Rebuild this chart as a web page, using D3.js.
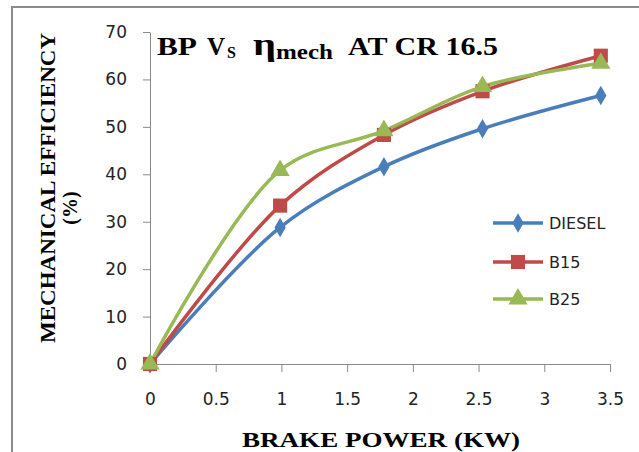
<!DOCTYPE html>
<html lang="en">
<head>
  <meta charset="UTF-8" />
  <title>BP vs mechanical efficiency</title>
  <script src="https://d3js.org/d3.v7.min.js"></script>
  <style>
    body { margin: 0; background: #fff; }
    svg { display: block; }
    .tick text { font-family: "DejaVu Sans", Verdana, sans-serif; font-size: 17px; fill: #222; }
    .axis path, .axis line { stroke: #8a8a8a; }
  </style>
</head>
<body>
  <svg id="chart"></svg>
  <script>
    // data
    const bp = [0, 0.99, 1.78, 2.53, 3.43];
    const diesel = [0, 28.8, 41.6, 49.6, 56.6];
    const b15 = [0, 33.4, 48.3, 57.5, 65.0];
    const b25 = [0, 40.8, 49.2, 58.5, 63.4];
    const seriesNames = ["DIESEL", "B15", "B25"];
    const xTicks = [0, 0.5, 1, 1.5, 2, 2.5, 3, 3.5];
    const yTicks = [0, 10, 20, 30, 40, 50, 60, 70];

    const width = 639, height = 452;
    const svg = d3.select("#chart").attr("width", width).attr("height", height);

    // outer frame
    svg.append("rect")
      .attr("x", 12).attr("y", 7)
      .attr("width", 640).attr("height", 460)
      .attr("fill", "none").attr("stroke", "#8c8c8c").attr("stroke-width", 2);

    const x = d3.scaleLinear().domain([0, 3.5]).range([150, 610]);
    const y = d3.scaleLinear().domain([0, 70]).range([364, 32]);

    svg.append("g")
      .attr("class", "axis")
      .attr("transform", "translate(0,364)")
      .call(d3.axisBottom(x).tickValues(xTicks).tickSize(8).tickPadding(21)
        .tickSizeOuter(0).tickFormat(d => d === 0 ? "0" : d3.format("")(d)));

    svg.append("g")
      .attr("class", "axis")
      .attr("transform", "translate(150,0)")
      .call(d3.axisLeft(y).tickValues(yTicks).tickSize(7).tickPadding(16).tickSizeOuter(0));

    const colors = { DIESEL: "#4a7ebb", B15: "#be4b48", B25: "#98b954" };
    const allSeries = [
      { name: "DIESEL", values: diesel },
      { name: "B15", values: b15 },
      { name: "B25", values: b25 }
    ];

    const line = d3.line()
      .x((d, i) => x(bp[i]))
      .y(d => y(d))
      .curve(d3.curveCatmullRom.alpha(0.5));

    const diamond = d3.symbol().type(d3.symbolDiamond).size(110);
    const square = d3.symbol().type(d3.symbolSquare).size(200);
    const triangle = d3.symbol().type(d3.symbolTriangle).size(160);
    const markers = { DIESEL: diamond, B15: square, B25: triangle };

    allSeries.forEach(s => {
      svg.append("path")
        .datum(s.values)
        .attr("d", line)
        .attr("fill", "none")
        .attr("stroke", colors[s.name])
        .attr("stroke-width", 3.5);
    });

    allSeries.forEach(s => {
      svg.selectAll(null)
        .data(s.values)
        .enter().append("path")
        .attr("d", markers[s.name])
        .attr("transform", (d, i) => `translate(${x(bp[i])},${y(d)})`)
        .attr("fill", colors[s.name]);
    });

    // legend
    const legendY = [223, 262, 299];
    seriesNames.forEach((name, i) => {
      const g = svg.append("g").attr("transform", `translate(493,${legendY[i]})`);
      g.append("line").attr("x1", 0).attr("x2", 50)
        .attr("stroke", colors[name]).attr("stroke-width", 3.5);
      g.append("path").attr("d", markers[name]).attr("transform", "translate(25,0)")
        .attr("fill", colors[name]);
      g.append("text").attr("x", 56).attr("y", 6)
        .attr("font-family", "DejaVu Sans, Verdana, sans-serif")
        .attr("font-size", 16).attr("fill", "#222")
        .text(name);
    });

    // title, pieces placed one by one
    const title = svg.append("text")
      .attr("y", 55)
      .attr("font-family", "Liberation Serif, Times New Roman, serif")
      .attr("font-weight", "bold").attr("font-size", 25).attr("fill", "#000");
    title.append("tspan").attr("x", 157)
      .attr("textLength", 40).attr("lengthAdjust", "spacingAndGlyphs").text("BP");
    title.append("tspan").attr("x", 207).text("V");
    title.append("tspan").attr("x", 227).attr("font-size", 16).attr("dy", 3).text("S");
    title.append("tspan").attr("x", 253).attr("font-size", 32).attr("dy", -3)
      .attr("textLength", 23).attr("lengthAdjust", "spacingAndGlyphs").text("η");
    title.append("tspan").attr("x", 276).attr("font-size", 22).attr("dy", 4)
      .attr("textLength", 57).attr("lengthAdjust", "spacingAndGlyphs").text("mech");
    title.append("tspan").attr("x", 348).attr("dy", -4)
      .attr("textLength", 150).attr("lengthAdjust", "spacingAndGlyphs").text("AT CR 16.5");

    // axis titles
    svg.append("text")
      .attr("transform", "translate(55,188) rotate(-90)")
      .attr("text-anchor", "middle")
      .attr("font-family", "Liberation Serif, Times New Roman, serif")
      .attr("font-weight", "bold").attr("font-size", 20)
      .attr("textLength", 310).attr("lengthAdjust", "spacingAndGlyphs")
      .text("MECHANICAL EFFICIENCY");
    svg.append("text")
      .attr("transform", "translate(77,208) rotate(-90)")
      .attr("text-anchor", "middle")
      .attr("font-family", "Liberation Serif, Times New Roman, serif")
      .attr("font-weight", "bold").attr("font-size", 20)
      .text("(%)");

    svg.append("text")
      .attr("x", 381).attr("y", 447)
      .attr("text-anchor", "middle")
      .attr("font-family", "Liberation Serif, Times New Roman, serif")
      .attr("font-weight", "bold").attr("font-size", 22)
      .attr("textLength", 278).attr("lengthAdjust", "spacingAndGlyphs")
      .text("BRAKE POWER (KW)");
  </script>
</body>
</html>
